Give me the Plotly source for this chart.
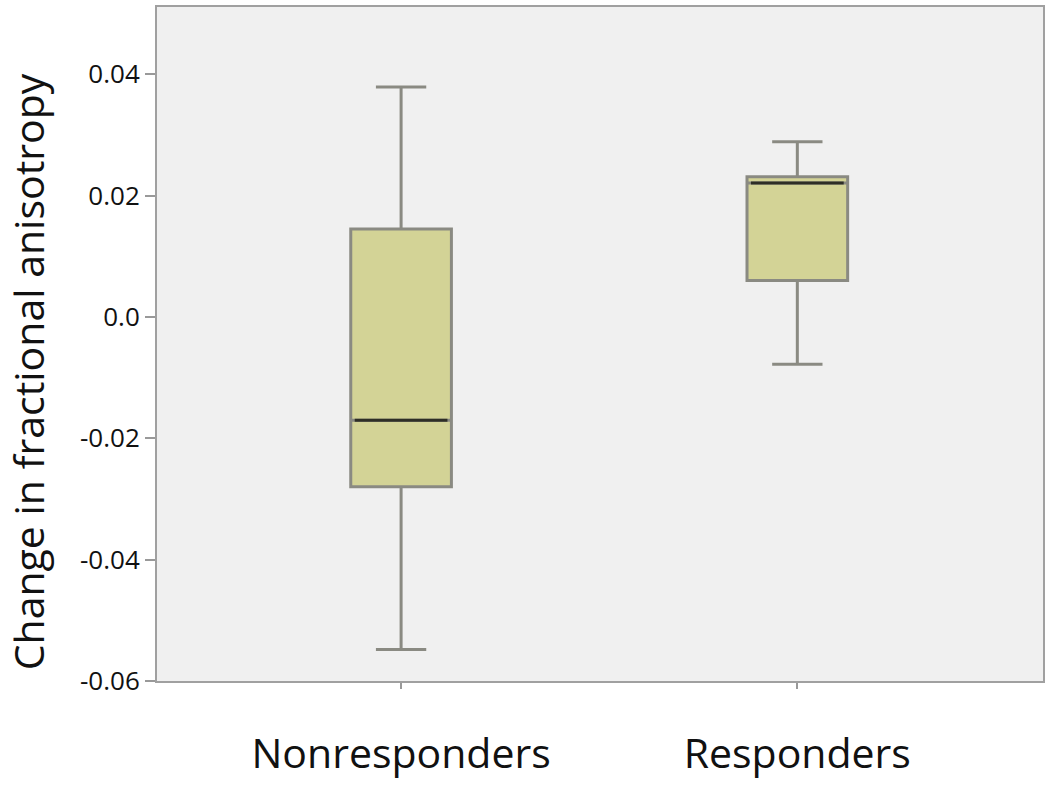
import plotly.graph_objects as go

categories = ["Nonresponders", "Responders"]
lower_whisker = [-0.0548, -0.0078]
q1_vals = [-0.0280, 0.0060]
medians = [-0.0170, 0.0221]
q3_vals = [0.0145, 0.0231]
upper_whisker = [0.0379, 0.0289]

ytick_vals = [0.04, 0.02, 0.0, -0.02, -0.04, -0.06]
ytick_text = ["0.04", "0.02", "0.0", "-0.02", "-0.04", "-0.06"]
y_title = "Change in fractional anisotropy"

box_width = 0.254
positions = list(range(len(categories)))

fig = go.Figure()
for i, cat in enumerate(categories):
    fig.add_trace(go.Box(
        x=[positions[i]],
        q1=[q1_vals[i]], median=[medians[i]], q3=[q3_vals[i]],
        lowerfence=[lower_whisker[i]], upperfence=[upper_whisker[i]],
        width=box_width, whiskerwidth=0.5,
        fillcolor="#d3d396",
        line=dict(color="#8a8a82", width=3),
        boxpoints=False, hoverinfo="skip", name=cat, showlegend=False,
    ))
    fig.add_trace(go.Scatter(
        x=[positions[i] - box_width / 2 + 0.01, positions[i] + box_width / 2 - 0.01],
        y=[medians[i], medians[i]],
        mode="lines", line=dict(color="#2e2e26", width=3),
        hoverinfo="skip", showlegend=False,
    ))

fig.update_layout(
    width=1050, height=785,
    margin=dict(l=157, r=5, t=5, b=97),
    paper_bgcolor="white", plot_bgcolor="#f0f0f0",
    font=dict(family="Open Sans", color="#111"),
)
fig.update_xaxes(
    range=[-0.616, 1.62], tickvals=positions, ticktext=categories,
    tickfont=dict(size=41, color="#111"), ticks="outside", ticklen=6,
    tickcolor="#999", tickwidth=2, showgrid=False, zeroline=False,
    showline=True, linecolor="#a0a0a0", linewidth=2, mirror=True,
    ticklabelstandoff=30,
)
fig.update_yaxes(
    range=[-0.06, 0.0511], tickvals=ytick_vals, ticktext=ytick_text,
    tickfont=dict(size=26, color="#111"), ticks="outside", ticklen=10,
    tickcolor="#999", tickwidth=2, showgrid=False, zeroline=False,
    showline=True, linecolor="#a0a0a0", linewidth=2, mirror=True,
)
fig.add_annotation(
    text=y_title, textangle=-90, showarrow=False,
    xref="paper", yref="paper", x=0, y=0.458, xshift=-129,
    xanchor="center", yanchor="middle",
    font=dict(size=41, color="#111", family="Open Sans"),
)

fig.write_html("out.html", config={"displayModeBar": False},
               post_script="document.body.style.margin='0';document.body.style.overflow='hidden';")
